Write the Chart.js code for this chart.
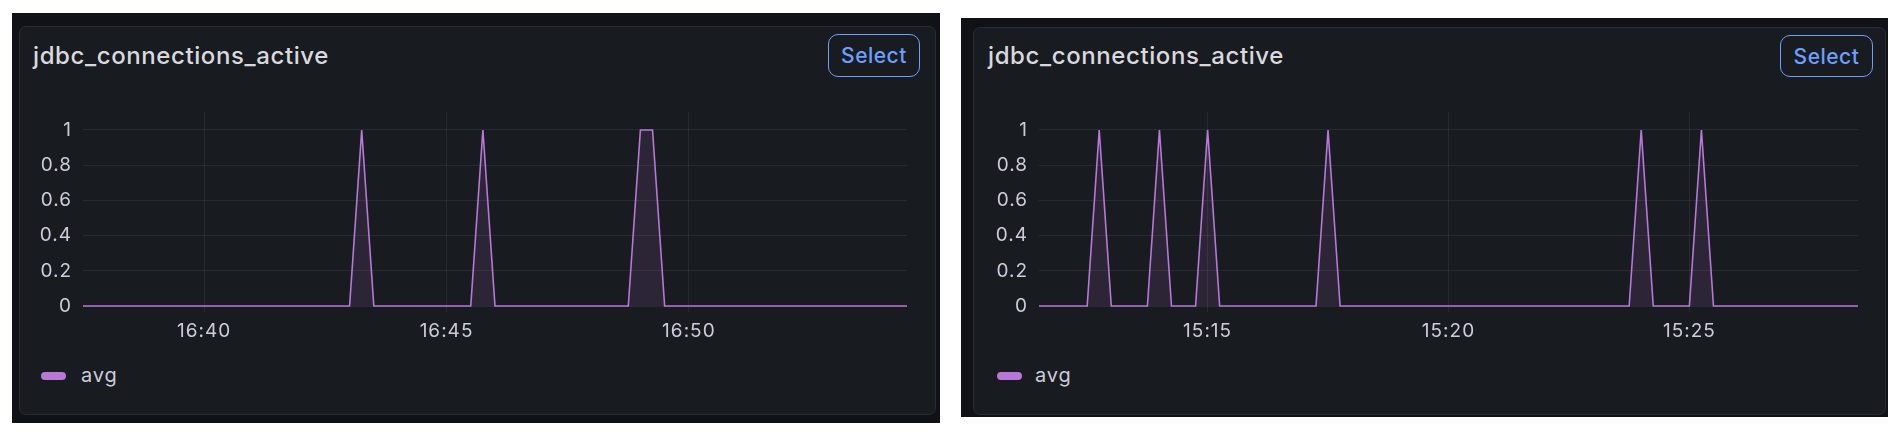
<!DOCTYPE html>
<html>
<head>
<meta charset="utf-8">
<script src="https://cdn.jsdelivr.net/npm/chart.js@4.4.1/dist/chart.umd.min.js"></script>
<style>
html,body{margin:0;padding:0;background:#ffffff;width:1900px;height:444px;overflow:hidden;font-family:Inter,"Noto Sans",sans-serif;}
.frame{position:absolute;background:#111217;}
.panel{position:absolute;background:#181b1f;border:1px solid #2a2c32;border-radius:7px;box-sizing:border-box;}
.title{position:absolute;color:#d8d9df;font-size:24px;letter-spacing:0.6px;font-weight:500;line-height:1;white-space:nowrap;}
.btn{position:absolute;box-sizing:border-box;border:1.6px solid #6e9fff;border-radius:10px;color:#6e9fff;font-size:21px;letter-spacing:0.5px;font-weight:500;display:flex;align-items:center;justify-content:center;}
.sw{position:absolute;background:#b877d9;border-radius:4px;height:8px;}
.lg{position:absolute;color:#ccccdc;font-size:20px;letter-spacing:0.8px;line-height:1;white-space:nowrap;}
canvas{position:absolute;}
</style>
</head>
<body>
<div class="frame" style="left:12px;top:13px;width:928px;height:410px;"></div>
<div class="panel" style="left:19px;top:26px;width:917px;height:389px;"></div>
<div class="title" id="t1" style="left:33px;top:44px;"></div>
<div class="btn" style="left:828px;top:34px;width:92px;height:43px;">Select</div>
<div class="sw" style="left:41px;top:372px;width:25px;"></div>
<div class="lg" id="l1" style="left:81px;top:365px;"></div>
<canvas id="c1" width="887" height="235" style="left:20px;top:112px;"></canvas>

<div class="frame" style="left:961px;top:18px;width:927px;height:399px;"></div>
<div class="panel" style="left:973px;top:27px;width:913px;height:388px;"></div>
<div class="title" id="t2" style="left:988px;top:44px;"></div>
<div class="btn" style="left:1780px;top:35px;width:93px;height:42px;">Select</div>
<div class="sw" style="left:997px;top:372px;width:25px;"></div>
<div class="lg" id="l2" style="left:1035px;top:365px;"></div>
<canvas id="c2" width="882" height="235" style="left:976px;top:112px;"></canvas>

<script>
// ---- data ----
const panelTitle = 'jdbc_connections_active';
const seriesName = 'avg';
const yTicks = [0, 0.2, 0.4, 0.6, 0.8, 1];

const leftTimes = ['16:37:30','16:43:00','16:43:15','16:43:30','16:45:30','16:45:45','16:46:00','16:48:45','16:49:00','16:49:15','16:49:30','16:54:30'];
const leftAvg   = [0, 0, 1, 0, 0, 1, 0, 0, 1, 1, 0, 0];
const leftXTicks = ['16:40', '16:45', '16:50'];

const rightTimes = ['15:11:30','15:12:30','15:12:45','15:13:00','15:13:45','15:14:00','15:14:15','15:14:45','15:15:00','15:15:15','15:17:15','15:17:30','15:17:45','15:23:45','15:24:00','15:24:15','15:25:00','15:25:15','15:25:30','15:28:30'];
const rightAvg   = [0, 0, 1, 0, 0, 1, 0, 0, 1, 0, 0, 1, 0, 0, 1, 0, 0, 1, 0, 0];
const rightXTicks = ['15:15', '15:20', '15:25'];

// ---- helpers ----
function toSec(t){ const p = t.split(':').map(Number); return p[0]*3600 + p[1]*60 + (p[2]||0); }

document.getElementById('t1').textContent = panelTitle;
document.getElementById('t2').textContent = panelTitle;
document.getElementById('l1').textContent = seriesName;
document.getElementById('l2').textContent = seriesName;

const tickColor = '#ccccdc';
const gridColor = 'rgba(204,204,220,0.09)';
const lineColor = '#b877d9';

const spacingPlugin = {
  id: 'spacing',
  beforeDraw(chart){ chart.ctx.letterSpacing = '1px'; }
};

function makeChart(id, times, vals, xTicks){
  const ctx = document.getElementById(id);
  return new Chart(ctx, {
    type: 'line',
    data: {
      datasets: [{
        label: seriesName,
        data: times.map((t, i) => ({ x: toSec(t), y: vals[i] })),
        borderColor: lineColor,
        borderWidth: 1.6,
        backgroundColor: 'rgba(184,119,217,0.12)',
        fill: 'origin',
        pointRadius: 0,
        tension: 0
      }]
    },
    plugins: [spacingPlugin],
    options: {
      responsive: false,
      animation: false,
      events: [],
      layout: { padding: 0 },
      plugins: { legend: { display: false }, tooltip: { enabled: false } },
      scales: {
        x: {
          type: 'linear',
          min: toSec(times[0]),
          max: toSec(times[times.length - 1]),
          afterBuildTicks: s => { s.ticks = xTicks.map(t => ({ value: toSec(t) })); },
          ticks: {
            callback: (v, i) => xTicks[i],
            color: tickColor,
            font: { family: 'Inter', size: 19 },
            padding: 8,
            maxRotation: 0,
            autoSkip: false
          },
          grid: { color: gridColor, drawTicks: false },
          border: { display: false },
          afterFit: s => { s.height = 35; s.paddingLeft = 0; s.paddingRight = 0; }
        },
        y: {
          min: -0.034,
          max: 1.102,
          afterBuildTicks: s => { s.ticks = yTicks.map(v => ({ value: v })); },
          ticks: {
            callback: (v, i) => String(yTicks[i]),
            color: tickColor,
            font: { family: 'Inter', size: 19 },
            padding: 11
          },
          grid: { color: gridColor, drawTicks: false },
          border: { display: false },
          afterFit: s => { s.width = 63; s.paddingTop = 0; s.paddingBottom = 0; }
        }
      }
    }
  });
}

makeChart('c1', leftTimes, leftAvg, leftXTicks);
makeChart('c2', rightTimes, rightAvg, rightXTicks);
</script>
</body>
</html>
